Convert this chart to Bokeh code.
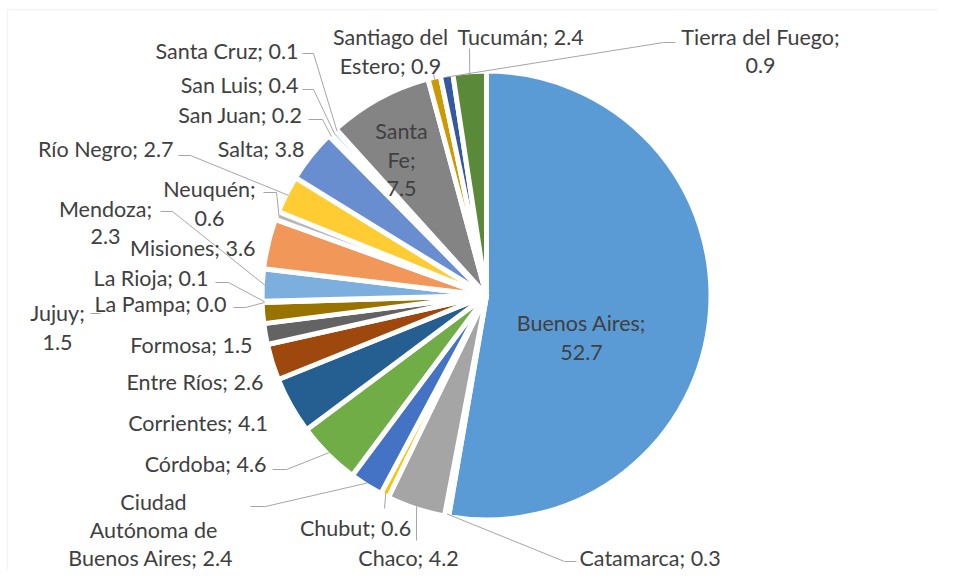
import math
from bokeh.plotting import figure
from bokeh.models import Range1d, BoxAnnotation
from bokeh.core.properties import value
from bokeh.embed import file_html
from bokeh.resources import INLINE

# ---------------- data ----------------
provinces = ["Buenos Aires", "Catamarca", "Chaco", "Chubut",
             "Ciudad Autónoma de Buenos Aires", "Córdoba", "Corrientes",
             "Entre Ríos", "Formosa", "Jujuy", "La Pampa", "La Rioja",
             "Mendoza", "Misiones", "Neuquén", "Río Negro", "Salta",
             "San Juan", "San Luis", "Santa Cruz", "Santa Fe",
             "Santiago del Estero", "Tierra del Fuego", "Tucumán"]
shares = [52.7, 0.3, 4.2, 0.6, 2.4, 4.6, 4.1, 2.6, 1.5, 1.5, 0.0, 0.1,
          2.3, 3.6, 0.6, 2.7, 3.8, 0.2, 0.4, 0.1, 7.5, 0.9, 0.9, 2.4]
slice_colors = ["#5B9BD5", "#ED7D31", "#A5A5A5", "#FFC000", "#4472C4", "#70AD47",
                "#255E91", "#9E480E", "#636363", "#997300", "#264478", "#43682B",
                "#7CAFDD", "#F1975A", "#B7B7B7", "#FFCD33", "#698ED0", "#8CC168",
                "#327DC2", "#D26012", "#848484", "#CC9A00", "#335AA1", "#5A8A39"]
# label text lines as shown in the chart
label_lines = {
    "Buenos Aires": ["Buenos Aires;", "52.7"],
    "Catamarca": ["Catamarca; 0.3"],
    "Chaco": ["Chaco; 4.2"],
    "Chubut": ["Chubut; 0.6"],
    "Ciudad Autónoma de Buenos Aires": ["Ciudad", "Autónoma de", "Buenos  Aires; 2.4"],
    "Córdoba": ["Córdoba; 4.6"],
    "Corrientes": ["Corrientes;  4.1"],
    "Entre Ríos": ["Entre Ríos; 2.6"],
    "Formosa": ["Formosa; 1.5"],
    "Jujuy": ["Jujuy;", "1.5"],
    "La Pampa": ["La Pampa; 0.0"],
    "La Rioja": ["La Rioja; 0.1"],
    "Mendoza": ["Mendoza;", "2.3"],
    "Misiones": ["Misiones; 3.6"],
    "Neuquén": ["Neuquén;", "0.6"],
    "Río Negro": ["Río Negro; 2.7"],
    "Salta": ["Salta; 3.8"],
    "San Juan": ["San Juan; 0.2"],
    "San Luis": ["San Luis; 0.4"],
    "Santa Cruz": ["Santa Cruz; 0.1"],
    "Santa Fe": ["Santa", "Fe;", "7.5"],
    "Santiago del Estero": ["Santiago del", "Estero; 0.9"],
    "Tierra del Fuego": ["Tierra del Fuego;", "0.9"],
    "Tucumán": ["Tucumán; 2.4"],
}

# ---------------- layout (picture pixel coordinates) ----------------
W, H = 938, 570
CX, CY, R = 486, 295, 222
GAP = 5
FONT = "Lato"
FSIZE = "21.5px"
LINE_H = 29
TXT = "#404040"
LEAD = "#A6A6A6"

# label anchor: (x, y of first line, align, line height)
label_pos = {
    "Buenos Aires": (581, 322, "center", 30),
    "Catamarca": (579, 557, "left", LINE_H),
    "Chaco": (408, 557, "center", LINE_H),
    "Chubut": (355, 527, "center", LINE_H),
    "Ciudad Autónoma de Buenos Aires": (153, 501, "center", 28),
    "Córdoba": (266, 463, "right", LINE_H),
    "Corrientes": (273, 422, "right", LINE_H),
    "Entre Ríos": (263, 381, "right", LINE_H),
    "Formosa": (252, 344, "right", LINE_H),
    "Jujuy": (57, 312, "center", 30),
    "La Pampa": (226, 303, "right", LINE_H),
    "La Rioja": (208, 277, "right", LINE_H),
    "Mendoza": (105, 208, "center", 28),
    "Misiones": (255, 247, "right", LINE_H),
    "Neuquén": (209, 188, "center", 30),
    "Río Negro": (173, 148, "right", LINE_H),
    "Salta": (304, 148, "right", LINE_H),
    "San Juan": (302, 114, "right", LINE_H),
    "San Luis": (298, 84, "right", LINE_H),
    "Santa Cruz": (298, 50, "right", LINE_H),
    "Santa Fe": (401, 130, "center", LINE_H),
    "Santiago del Estero": (390, 36, "center", LINE_H),
    "Tierra del Fuego": (760, 36, "center", LINE_H),
    "Tucumán": (457, 36, "left", LINE_H),
}
# leader line points on the label side; the slice end is computed from the data
leader_pts = {
    "Santa Cruz": [(302, 53), (313, 53)],
    "San Luis": [(302, 89), (313, 89)],
    "San Juan": [(308, 119), (322, 119)],
    "Río Negro": [(178, 155), (190, 155)],
    "Neuquén": [(263, 192), (276, 192)],
    "Mendoza": [(160, 211), (172, 211)],
    "La Rioja": [(215, 282), (228, 282)],
    "La Pampa": [(233, 307), (245, 307)],
    "Córdoba": [(272, 469), (286, 469)],
    "Ciudad Autónoma de Buenos Aires": [(250, 506), (265, 506)],
    "Chubut": [(384, 508)],
    "Chaco": [(416, 540)],
    "Catamarca": [(576, 561), (564, 561)],
    "Tucumán": [(469, 48)],
    "Tierra del Fuego": [(675, 42), (663, 42)],
    "Santiago del Estero": [(433, 73)],
}
stub_only = {"Jujuy": [(90, 313), (100, 313)]}

p = figure(width=W, height=H, output_backend="svg", toolbar_location=None,
           x_range=Range1d(0, W), y_range=Range1d(-H, 0),
           min_border=0)
p.axis.visible = False
p.grid.visible = False
p.outline_line_color = None
p.background_fill_color = "white"
# chart-area border as in the reference
p.add_layout(BoxAnnotation(left=7, right=951, top=-9, bottom=-600,
                           fill_alpha=0, line_color="#D9D9D9", line_width=1.5))

total = sum(shares)
starts, ends, mids = [], [], []
cum = 0.0
for s in shares:
    starts.append(cum / total)
    cum += s
    ends.append(cum / total)
    mids.append((starts[-1] + ends[-1]) / 2)

# zero-size slices are not drawn (a zero-width wedge would render as a full disc)
idx = [i for i, s in enumerate(shares) if s > 0]
p.wedge(x=[CX] * len(idx), y=[-CY] * len(idx), radius=R + GAP / 2,
        start_angle=[math.pi / 2 - 2 * math.pi * starts[i] for i in idx],
        end_angle=[math.pi / 2 - 2 * math.pi * ends[i] for i in idx],
        direction="clock", fill_color=[slice_colors[i] for i in idx],
        line_color="white", line_width=GAP, line_join="round")

# leader lines
xs, ys = [], []
for i, name in enumerate(provinces):
    if name in leader_pts:
        th = 2 * math.pi * mids[i]
        ex = CX + R * math.sin(th)
        ey = CY - R * math.cos(th)
        pts = leader_pts[name] + [(ex, ey)]
        xs.append([q[0] for q in pts])
        ys.append([-q[1] for q in pts])
for name, pts in stub_only.items():
    xs.append([q[0] for q in pts])
    ys.append([-q[1] for q in pts])
p.multi_line(xs=xs, ys=ys, line_color=LEAD, line_width=1)

# labels
for align in ("left", "center", "right"):
    tx, ty, tt = [], [], []
    for name in provinces:
        x0, y0, a, lh = label_pos[name]
        if a != align:
            continue
        for k, line in enumerate(label_lines[name]):
            tx.append(x0)
            ty.append(-(y0 + k * lh))
            tt.append(line)
    p.text(x=tx, y=ty, text=tt, text_font=value(FONT), text_font_size=FSIZE,
           text_color=TXT, text_align=align, text_baseline="middle")

open("out.html", "w").write(file_html(p, INLINE))
